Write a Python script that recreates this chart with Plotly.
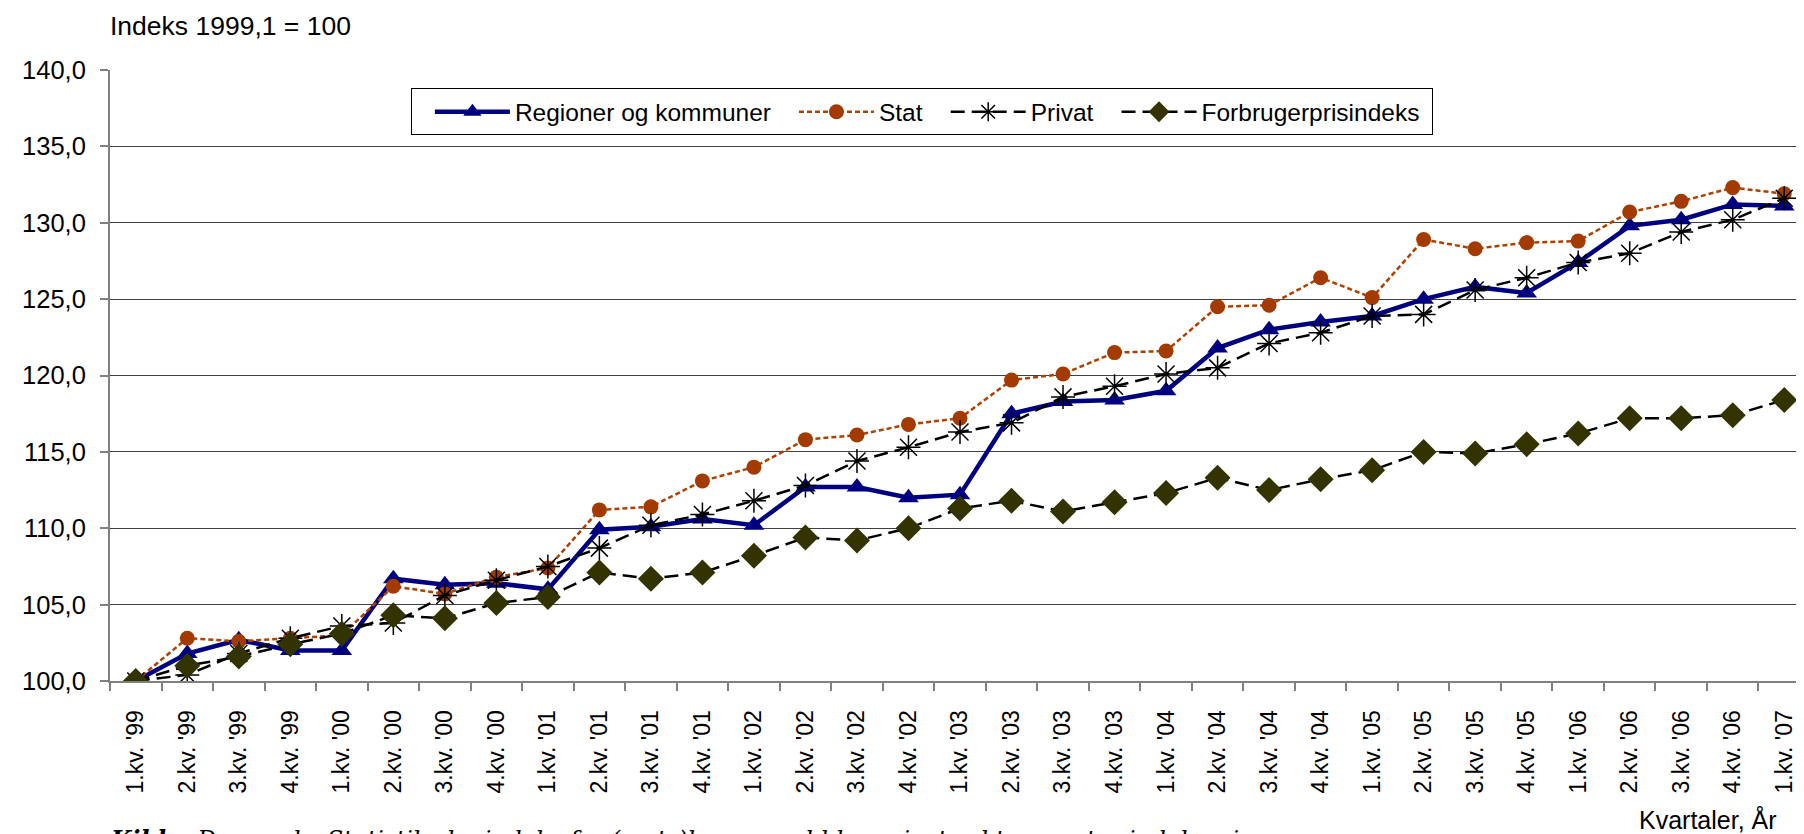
import plotly.graph_objects as go

categories = [
    "1.kv. '99", "2.kv. '99", "3.kv. '99", "4.kv. '99",
    "1.kv. '00", "2.kv. '00", "3.kv. '00", "4.kv. '00",
    "1.kv. '01", "2.kv. '01", "3.kv. '01", "4.kv. '01",
    "1.kv. '02", "2.kv. '02", "3.kv. '02", "4.kv. '02",
    "1.kv. '03", "2.kv. '03", "3.kv. '03", "4.kv. '03",
    "1.kv. '04", "2.kv. '04", "3.kv. '04", "4.kv. '04",
    "1.kv. '05", "2.kv. '05", "3.kv. '05", "4.kv. '05",
    "1.kv. '06", "2.kv. '06", "3.kv. '06", "4.kv. '06",
    "1.kv. '07",
]

regioner = [100.0, 101.8, 102.7, 102.0, 102.0, 106.7, 106.3, 106.4, 106.0, 109.9,
            110.1, 110.6, 110.2, 112.7, 112.7, 112.0, 112.2, 117.5, 118.3, 118.4,
            119.0, 121.8, 123.0, 123.5, 123.9, 125.0, 125.8, 125.4, 127.4, 129.8,
            130.2, 131.2, 131.1]

stat = [100.0, 102.8, 102.6, 102.8, 103.0, 106.2, 105.7, 106.8, 107.4, 111.2,
        111.4, 113.1, 114.0, 115.8, 116.1, 116.8, 117.2, 119.7, 120.1, 121.5,
        121.6, 124.5, 124.6, 126.4, 125.1, 128.9, 128.3, 128.7, 128.8, 130.7,
        131.4, 132.3, 131.9]

privat = [100.0, 100.4, 101.8, 102.8, 103.6, 103.8, 105.6, 106.6, 107.5, 108.7,
          110.2, 110.9, 111.8, 112.8, 114.4, 115.3, 116.3, 116.9, 118.6, 119.3,
          120.1, 120.5, 122.1, 122.8, 123.9, 124.0, 125.6, 126.4, 127.4, 128.0,
          129.4, 130.2, 131.6]

forbruger = [100.0, 101.0, 101.6, 102.4, 103.1, 104.3, 104.1, 105.1, 105.5, 107.1,
             106.7, 107.1, 108.2, 109.4, 109.2, 110.0, 111.3, 111.8, 111.1, 111.7,
             112.3, 113.3, 112.5, 113.2, 113.8, 115.0, 114.9, 115.5, 116.2, 117.2,
             117.2, 117.4, 118.4]

series_names = ["Regioner og kommuner", "Stat", "Privat", "Forbrugerprisindeks"]

FONT = "Liberation Sans, Arial, sans-serif"

fig = go.Figure()
fig.add_trace(go.Scatter(
    x=categories, y=regioner, name=series_names[0], mode="lines+markers",
    line=dict(color="#000080", width=4.5),
    marker=dict(symbol="triangle-up", size=18, color="#000080")))
fig.add_trace(go.Scatter(
    x=categories, y=stat, name=series_names[1], mode="lines+markers",
    line=dict(color="#B04000", width=2.5, dash="5px,3px"),
    marker=dict(symbol="circle", size=15, color="#A33B00")))
fig.add_trace(go.Scatter(
    x=categories, y=privat, name=series_names[2], mode="lines+markers",
    line=dict(color="black", width=2.5, dash="14px,7px"),
    marker=dict(symbol="asterisk-open", size=20, color="black",
                line=dict(color="black", width=1.5))))
fig.add_trace(go.Scatter(
    x=categories, y=forbruger, name=series_names[3] + "\u00a0", mode="lines+markers",
    line=dict(color="black", width=2.5, dash="14px,7px"),
    marker=dict(symbol="diamond", size=20, color="#333300")))

fig.update_layout(
    width=1804, height=834,
    margin=dict(l=102, r=2, t=62, b=161),
    paper_bgcolor="white", plot_bgcolor="white",
    separators=",.",
    font=dict(family=FONT, size=24, color="black"),
    showlegend=True,
    legend=dict(
        orientation="h", x=0.177, y=0.970, xanchor="left", yanchor="top",
        bgcolor="white", bordercolor="black", borderwidth=1,
        font=dict(family=FONT, size=24.5, color="black"),
        itemwidth=75, indentation=18,
    ),
    xaxis=dict(
        type="category", range=[-0.5, 32.5],
        tickangle=-90, ticks="outside", tickson="boundaries", ticklen=8,
        tickcolor="#808080", tickwidth=1.5, ticklabelstandoff=18,
        showline=True, linecolor="#808080", linewidth=2,
        showgrid=False, zeroline=False,
        tickfont=dict(family=FONT, size=23, color="black"),
    ),
    yaxis=dict(
        range=[100, 140], dtick=5, tickformat=".1f",
        ticks="outside", ticklen=8, tickcolor="#808080", tickwidth=1.5,
        ticklabelstandoff=9,
        showline=True, linecolor="#808080", linewidth=2,
        showgrid=True, gridcolor="#404040", gridwidth=1.2,
        zeroline=False,
        tickfont=dict(family=FONT, size=25.5, color="black"),
    ),
    annotations=[
        dict(text="Indeks 1999,1 = 100", xref="paper", yref="paper",
             x=-0.001, y=1.072, xanchor="left", yanchor="middle", showarrow=False,
             font=dict(family=FONT, size=26.5, color="black")),
        dict(text="Kvartaler, År", xref="paper", yref="paper",
             x=0.982, y=-0.227, xanchor="right", yanchor="middle", showarrow=False,
             font=dict(family=FONT, size=25, color="black")),
        dict(text="<b><i>Kilde:</i></b><i> Danmarks Statistiks lønindeks for (amts)kommunal hhv. privat sektor samt reindeksering</i>",
             xref="paper", yref="paper",
             x=-0.001, y=-0.234, xanchor="left", yanchor="top", showarrow=False,
             font=dict(family="DejaVu Serif, Liberation Serif, serif", size=23.6, color="black")),
    ],
)

fig.write_html("out.html")
